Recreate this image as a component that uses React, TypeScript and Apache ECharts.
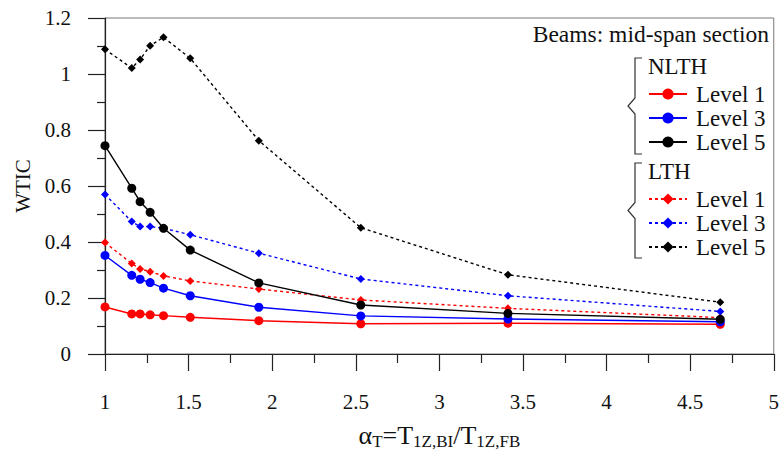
import React, { useEffect, useRef } from "react";
import * as echarts from "echarts";

const xValues = [1.0, 1.16, 1.21, 1.27, 1.35, 1.51, 1.92, 2.53, 3.41, 4.68];
const nlthLevel1 = [0.168, 0.143, 0.143, 0.14, 0.137, 0.131, 0.119, 0.108, 0.11, 0.106];
const nlthLevel3 = [0.352, 0.281, 0.267, 0.255, 0.235, 0.208, 0.167, 0.136, 0.125, 0.115];
const nlthLevel5 = [0.744, 0.592, 0.544, 0.506, 0.449, 0.371, 0.254, 0.175, 0.145, 0.124];
const lthLevel1 = [0.398, 0.323, 0.304, 0.294, 0.279, 0.261, 0.232, 0.193, 0.163, 0.13];
const lthLevel3 = [0.57, 0.473, 0.455, 0.455, 0.449, 0.426, 0.36, 0.268, 0.208, 0.152];
const lthLevel5 = [1.088, 1.021, 1.052, 1.101, 1.131, 1.056, 0.762, 0.451, 0.283, 0.185];

const FONT = "Liberation Serif";
const AXIS_COLOR = "#222";

function pairs(ys: number[]) {
  return xValues.map((x, i) => [x, ys[i]]);
}

export default function App() {
  const ref = useRef<HTMLDivElement>(null);
  useEffect(() => {
    if (!ref.current) return;
    const chart = echarts.init(ref.current, undefined, { renderer: "svg" });

    const solid = (name: string, color: string, ys: number[]) => ({
      name,
      type: "line",
      data: pairs(ys),
      symbol: "circle",
      symbolSize: 9,
      lineStyle: { color, width: 1.4, type: "solid" },
      itemStyle: { color },
      z: 3,
    });
    const dotted = (name: string, color: string, ys: number[]) => ({
      name,
      type: "line",
      data: pairs(ys),
      symbol: "diamond",
      symbolSize: 8,
      lineStyle: { color, width: 1.4, type: [3, 3] },
      itemStyle: { color },
      z: 2,
    });

    const legendCommon = {
      orient: "vertical",
      left: 648,
      padding: 0,
      itemWidth: 38,
      itemHeight: 14,
      itemGap: 0,
      selectedMode: false,
      formatter: (n: string) => n.replace(/^(NLTH|LTH) /, ""),
      textStyle: {
        fontFamily: FONT,
        fontSize: 23,
        color: "#111",
        lineHeight: 24,
        padding: [0, 0, 0, 4],
      },
    };

    const bracket = (top: number, bottom: number) => {
      const mid = (top + bottom) / 2;
      return {
        type: "polyline",
        shape: {
          points: [
            [642, top],
            [635, top],
            [635, mid - 8],
            [628, mid],
            [635, mid + 8],
            [635, bottom],
            [642, bottom],
          ],
        },
        style: { stroke: "#333", lineWidth: 1.2, fill: "none" },
      };
    };

    chart.setOption({
      animation: false,
      textStyle: { fontFamily: FONT },
      grid: {
        left: 105,
        right: 6,
        top: 18,
        bottom: 105,
        show: true,
        borderColor: "#777",
        borderWidth: 1,
      },
      xAxis: {
        type: "value",
        min: 1,
        max: 5,
        interval: 0.5,
        name: "{a|α}{s|T}{a|=T}{s|1Z,BI}{a|/T}{s|1Z,FB}",
        nameLocation: "middle",
        nameGap: 66,
        nameTextStyle: {
          fontFamily: FONT,
          color: "#111",
          rich: {
            a: { fontFamily: FONT, fontSize: 26, color: "#111", lineHeight: 30 },
            s: { fontFamily: FONT, fontSize: 17, color: "#111", lineHeight: 17, padding: [12, 0, 0, 0] },
          },
        },
        axisLine: { onZero: false, lineStyle: { color: AXIS_COLOR, width: 1.2 } },
        axisTick: { length: 17, lineStyle: { color: AXIS_COLOR, width: 1.2 } },
        minorTick: { show: true, splitNumber: 2, length: 9, lineStyle: { color: AXIS_COLOR, width: 1.2 } },
        splitLine: { show: false },
        axisLabel: { margin: 37, fontFamily: FONT, fontSize: 21, color: "#111" },
      },
      yAxis: {
        type: "value",
        min: 0,
        max: 1.2,
        interval: 0.2,
        name: "WTIC",
        nameLocation: "middle",
        nameGap: 70,
        nameTextStyle: { fontFamily: FONT, fontSize: 21, color: "#111" },
        axisLine: { show: true, onZero: false, lineStyle: { color: AXIS_COLOR, width: 1.2 } },
        axisTick: { show: true, length: 17, lineStyle: { color: AXIS_COLOR, width: 1.2 } },
        minorTick: { show: true, splitNumber: 2, length: 8, lineStyle: { color: AXIS_COLOR, width: 1.2 } },
        splitLine: { show: false },
        axisLabel: { margin: 34, fontFamily: FONT, fontSize: 21, color: "#111" },
      },
      legend: [
        {
          ...legendCommon,
          top: 82,
          data: ["NLTH Level 1", "NLTH Level 3", "NLTH Level 5"],
        },
        {
          ...legendCommon,
          top: 187,
          data: ["LTH Level 1", "LTH Level 3", "LTH Level 5"],
        },
      ],
      graphic: [
        {
          type: "text",
          right: 13,
          top: 22,
          style: { text: "Beams: mid-span section", fontFamily: FONT, fontSize: 23.5, fill: "#111" },
        },
        {
          type: "text",
          left: 648,
          top: 55,
          style: { text: "NLTH", fontFamily: FONT, fontSize: 23, fill: "#111" },
        },
        {
          type: "text",
          left: 648,
          top: 160,
          style: { text: "LTH", fontFamily: FONT, fontSize: 23, fill: "#111" },
        },
        bracket(58, 154),
        bracket(163, 258),
      ],
      series: [
        dotted("LTH Level 1", "#ff0000", lthLevel1),
        dotted("LTH Level 3", "#0000ff", lthLevel3),
        dotted("LTH Level 5", "#000000", lthLevel5),
        solid("NLTH Level 1", "#ff0000", nlthLevel1),
        solid("NLTH Level 3", "#0000ff", nlthLevel3),
        solid("NLTH Level 5", "#000000", nlthLevel5),
      ],
    });
    return () => chart.dispose();
  }, []);
  return (
    <div
      ref={ref}
      style={{ position: "fixed", left: 0, top: 0, width: 782, height: 459, background: "#fff" }}
    />
  );
}
